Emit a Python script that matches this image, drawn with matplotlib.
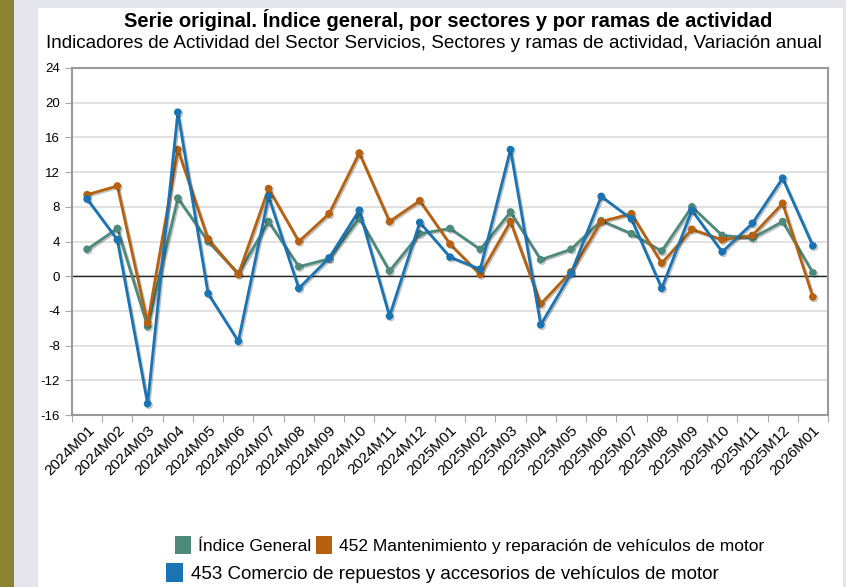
import matplotlib.pyplot as plt
import matplotlib.patheffects as pe
from matplotlib.patches import Rectangle, Patch
import numpy as np

plt.rcParams['font.family'] = ['Liberation Sans', 'DejaVu Sans']
plt.rcParams['axes.unicode_minus'] = False

# Data
periods = ['2024M01', '2024M02', '2024M03', '2024M04', '2024M05', '2024M06',
           '2024M07', '2024M08', '2024M09', '2024M10', '2024M11', '2024M12',
           '2025M01', '2025M02', '2025M03', '2025M04', '2025M05', '2025M06',
           '2025M07', '2025M08', '2025M09', '2025M10', '2025M11', '2025M12',
           '2026M01']
indice_general = [3.1, 5.5, -5.8, 9.0, 4.0, 0.3, 6.3, 1.1, 2.0, 6.7, 0.6, 4.9,
                  5.5, 3.1, 7.4, 1.9, 3.1, 6.4, 4.9, 2.9, 8.0, 4.7, 4.4, 6.3, 0.4]
mant_452 = [9.4, 10.4, -5.4, 14.6, 4.3, 0.2, 10.1, 4.0, 7.2, 14.2, 6.3, 8.7,
            3.7, 0.2, 6.3, -3.2, 0.5, 6.3, 7.2, 1.5, 5.4, 4.2, 4.7, 8.4, -2.4]
comercio_453 = [8.9, 4.2, -14.7, 18.9, -2.0, -7.5, 9.2, -1.4, 2.1, 7.6, -4.6, 6.2,
                2.2, 0.8, 14.6, -5.6, 0.3, 9.2, 6.6, -1.4, 7.6, 2.8, 6.1, 11.3, 3.5]

series = [
    ("Índice General", indice_general, "#4e8a7c"),
    ("452 Mantenimiento y reparación de vehículos de motor", mant_452, "#b5610f"),
    ("453 Comercio de repuestos y accesorios de vehículos de motor", comercio_453, "#1a74b3"),
]

fig = plt.figure(figsize=(8.46, 5.87), dpi=100)
fig.patch.set_facecolor('#e4e5ea')

# page background pieces, kept behind the axes
fig.patches.append(Rectangle((0, 0), 14 / 846, 1, transform=fig.transFigure,
                             facecolor='#8a8430', edgecolor='none', zorder=-10))
fig.patches.append(Rectangle((38 / 846, 0), (843 - 38) / 846, 1 - 8 / 587,
                             transform=fig.transFigure, facecolor='white',
                             edgecolor='none', zorder=-10))

ax = fig.add_axes([72 / 846, 1 - 415 / 587, (828 - 72) / 846, (415 - 68) / 587])
x = np.arange(len(periods))

shadow = [pe.SimpleLineShadow(offset=(1, -1), alpha=0.25), pe.Normal()]
for name, vals, col in series:
    ax.plot(x, vals, color=col, lw=2.0, marker='o', ms=4.5, label=name,
            path_effects=shadow, zorder=3)

ax.axhline(0, color='#222222', lw=1, zorder=2)
ax.set_ylim(-16, 24)
ax.set_yticks(np.arange(-16, 25, 4))
ax.set_xlim(-0.5, len(periods) - 0.5)
ax.yaxis.grid(True, color='#dcdcdc', lw=1.2)
ax.set_axisbelow(True)

# x ticks between categories, labels at points
ax.set_xticks(np.arange(-0.5, len(periods), 1.0))
ax.set_xticklabels([])
ax.set_xticks(x, minor=True)
ax.set_xticklabels(periods, minor=True, rotation=45, ha='right',
                   rotation_mode='anchor', fontsize=11)
ax.tick_params(axis='x', which='minor', length=0, pad=6)
ax.tick_params(axis='x', which='major', length=5, color='#aaaaaa')
ax.tick_params(axis='y', length=5, color='#aaaaaa', labelsize=9.5)

for s in ax.spines.values():
    s.set_color('#9a9a9a')
    s.set_linewidth(1.5)

fig.text(0.53, 1 - 20 / 587, 'Serie original. Índice general, por sectores y por ramas de actividad',
         ha='center', va='center', fontsize=14.5, fontweight='bold')
fig.text(0.513, 1 - 43 / 587, 'Indicadores de Actividad del Sector Servicios, Sectores y ramas de actividad, Variación anual',
         ha='center', va='center', fontsize=13.6)

handles = [Patch(facecolor=c, edgecolor='none') for _, _, c in series]
labels = [n for n, _, _ in series]
fig.legend(handles[:2], labels[:2], ncol=2, loc='center',
           bbox_to_anchor=(0.555, 1 - 545 / 587), frameon=False,
           fontsize=12.5, handlelength=0.9, handleheight=1.2,
           handletextpad=0.4, columnspacing=0.3)
fig.legend(handles[2:], labels[2:], loc='center',
           bbox_to_anchor=(0.523, 1 - 573 / 587), frameon=False,
           fontsize=13.5, handlelength=0.9, handleheight=1.2,
           handletextpad=0.4)

fig.savefig('out.png', dpi=100)
